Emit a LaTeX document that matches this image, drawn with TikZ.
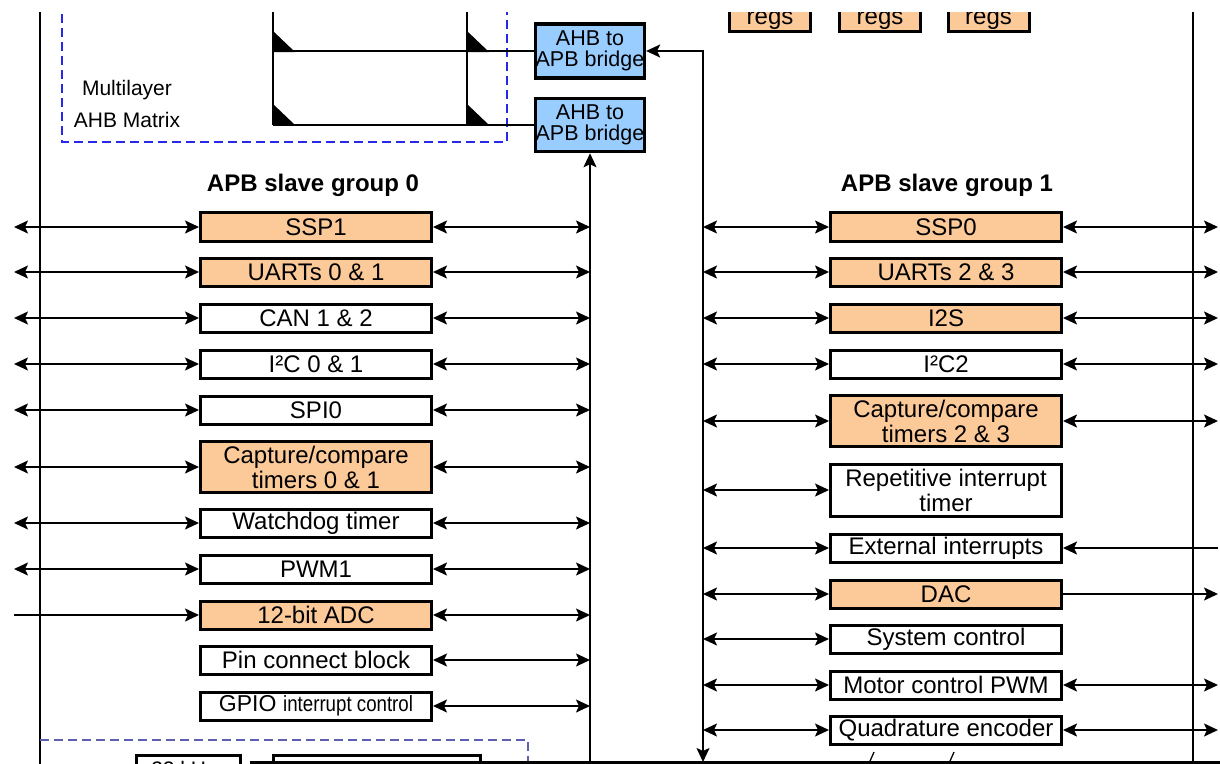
\documentclass[tikz,border=0pt]{standalone}
\usepackage{fontspec}
\setmainfont{Liberation Sans}
\usetikzlibrary{arrows.meta}
\definecolor{peach}{RGB}{252,201,153}
\definecolor{bridgeblue}{RGB}{153,204,255}
\definecolor{dashblue}{RGB}{40,40,235}
\definecolor{dashpurple}{RGB}{95,95,175}
\begin{document}
\begin{tikzpicture}[x=1pt,y=-1pt,
  >={Stealth[length=14pt,width=13pt,inset=3pt]},
  box/.style={draw, line width=3pt, minimum width=231pt, minimum height=28pt, inner sep=0pt, align=center, font=\fontsize{24}{25}\selectfont},
  tall/.style={minimum height=51pt},
  hot/.style={fill=peach},
  bridge/.style={draw, line width=3.5pt, fill=bridgeblue, minimum width=107pt, minimum height=54pt, inner sep=0pt, align=center, font=\fontsize{21.5}{21.5}\selectfont},
  link/.style={line width=1.8pt},
  bus/.style={line width=1.8pt},
  header/.style={font=\fontsize{24}{25}\selectfont\bfseries},
  mtext/.style={font=\fontsize{21}{22}\selectfont},
  regbox/.style={draw, line width=3pt, fill=peach, minimum width=81pt, minimum height=40pt, inner sep=0pt},
  dashA/.style={dashblue, line width=2pt, dash pattern=on 9pt off 5pt},
  dashB/.style={dashpurple, line width=2pt, dash pattern=on 9pt off 5pt},
]
\useasboundingbox (0,0) rectangle (1220,763);
\begin{scope}
\clip (0,12) rectangle (1220,763);

% named reference coordinates
\coordinate (lend) at (14,0);
\coordinate (busL) at (590,0);
\coordinate (busR) at (703,0);
\coordinate (rend) at (1218,0);
\coordinate (mL) at (273,0);
\coordinate (mR) at (467,0);
\coordinate (Ltop) at (40,0);
\coordinate (Lbot) at (40,780);
\coordinate (Rtop) at (1193,0);
\coordinate (Rbot) at (1193,780);
\coordinate (busLbot) at (590,780);
\coordinate (busRbot) at (703,762);

% side lines
\draw[bus] (Ltop) -- (Lbot);
\draw[bus] (Rtop) -- (Rbot);

% multilayer AHB matrix
\draw[dashA] (62,0) -- (62,142) -- (507,142) -- (507,0);
\node[mtext] (ml1) at (127,90) {Multilayer};
\node[mtext] (ml2) at (127,120) {AHB Matrix};

\node[bridge] (B1) at (590,51) {AHB to\\APB bridge};
\node[bridge, minimum height=53pt] (B2) at (590,125) {AHB to\\APB bridge};

\draw[link] (mL) -- (mL |- B2.west);
\draw[link] (mR) -- (mR |- B2.west);
\draw[link] (B1.west -| mL) -- (B1.west);
\draw[link] (B2.west -| mL) -- (B2.west);
\fill (273,31) -- (273,52) -- (295,52) -- cycle;
\fill (467,31) -- (467,52) -- (489,52) -- cycle;
\fill (273,104) -- (273,125) -- (295,125) -- cycle;
\fill (467,104) -- (467,125) -- (489,125) -- cycle;

% regs boxes at top
\node[regbox] (rg1) at (770,11.5) {};
\node[regbox] (rg2) at (880,11.5) {};
\node[regbox] (rg3) at (988.5,11.5) {};
\node[anchor=base, font=\fontsize{24}{25}\selectfont] (rt1) at (770,24) {regs};
\node[anchor=base, font=\fontsize{24}{25}\selectfont] (rt2) at (880,24) {regs};
\node[anchor=base, font=\fontsize{24}{25}\selectfont] (rt3) at (988.5,24) {regs};

% headers
\node[header] (h0) at (313,185) {APB slave group 0};
\node[header] (h1) at (947,185) {APB slave group 1};

% left group
\node[box, hot, minimum height=29pt] (L1) at (316,227) {SSP1};
\node[box, hot] (L2) at (316,272) {UARTs 0 \& 1};
\node[box] (L3) at (316,318) {CAN 1 \& 2};
\node[box] (L4) at (316,364) {I²C 0 \& 1};
\node[box] (L5) at (316,410) {SPI0};
\node[box, hot, tall] (L6) at (316,467) {Capture/compare\\timers 0 \& 1};
\node[box] (L7) at (316,523) {Watchdog timer};
\node[box] (L8) at (316,569) {PWM1};
\node[box, hot] (L9) at (316,615) {12-bit ADC};
\node[box] (L10) at (316,660) {Pin connect block};
\node[box] (L11) at (316,706) {{\fontsize{23}{24}\selectfont GPIO} \scalebox{0.85}[1]{\fontsize{22}{23}\selectfont interrupt control}};

\foreach \n in {L1,L2,L3,L4,L5,L6,L7,L8}
  \draw[link,<->] (\n.west -| lend) -- (\n.west);
\draw[link,->] (L9.west -| lend) -- (L9.west);
\foreach \n in {L1,L2,L3,L4,L5,L6,L7,L8,L9,L10,L11}
  \draw[link,<->] (\n.east) -- (\n.east -| busL);

% right group
\node[box, hot, minimum height=29pt] (R1) at (946,227) {SSP0};
\node[box, hot] (R2) at (946,272) {UARTs 2 \& 3};
\node[box, hot] (R3) at (946,318) {I2S};
\node[box] (R4) at (946,364) {I²C2};
\node[box, hot, tall] (R5) at (946,421) {Capture/compare\\timers 2 \& 3};
\node[box, tall, minimum height=52pt] (R6) at (946,490) {Repetitive interrupt\\timer};
\node[box] (R7) at (946,548) {External interrupts};
\node[box, hot] (R8) at (946,594) {DAC};
\node[box] (R9) at (946,639) {System control};
\node[box] (R10) at (946,685) {Motor control PWM};
\node[box] (R11) at (946,730) {Quadrature encoder};

\foreach \n in {R1,R2,R3,R4,R5,R6,R7,R8,R9,R10,R11}
  \draw[link,<->] (\n.west -| busR) -- (\n.west);
\foreach \n in {R1,R2,R3,R4,R5,R10,R11}
  \draw[link,<->] (\n.east) -- (\n.east -| rend);
\draw[link,<-] (R7.east) -- (R7.east -| rend);
\draw[link,->] (R8.east) -- (R8.east -| rend);

% buses to bridges
\draw[bus,->] (busLbot) -- (B2.south);
\draw[bus,<->] (B1.east) -| (busRbot);

% bottom region
\draw[dashB] (40,740) -- (528,740) -- (528,780);
\node[draw, line width=3pt, minimum width=104pt, minimum height=40pt, anchor=north] (osc) at (188.5,753.5) {};
\node[anchor=base, font=\fontsize{21}{22}\selectfont] (osct) at (184,776) {32 kHz};
\node[draw, line width=3pt, minimum width=207pt, minimum height=40pt, anchor=north] (rtc) at (377,753.5) {};
\draw[line width=2.5pt] (250,762.5) -- (1220,762.5);
\draw[line width=1.3pt] (874,752) -- (870,761);
\draw[line width=1.3pt] (954,752) -- (950,761);
\end{scope}
\end{tikzpicture}
\end{document}
